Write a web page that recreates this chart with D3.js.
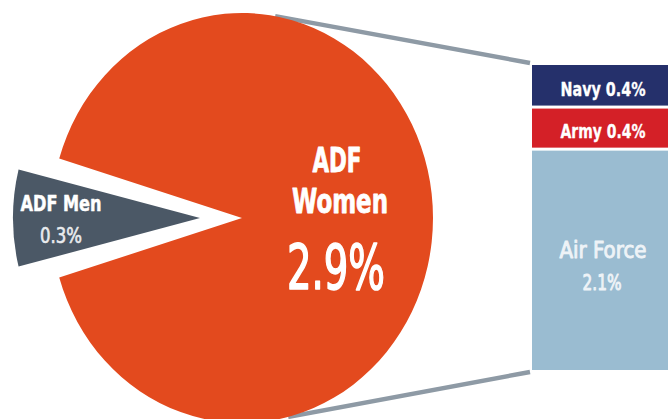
<!DOCTYPE html>
<html><head><meta charset="utf-8">
<script src="https://cdn.jsdelivr.net/npm/d3@7"></script>
<style>html,body{margin:0;padding:0;background:#fff;overflow:hidden;} svg{display:block;}</style>
</head><body>
<svg id="c" width="669" height="419"></svg>
<script>
// ---- data ----
const pieCategories = ["ADF Men", "ADF Women"];
const pieValues = [0.3, 2.9];
const barCategories = ["Navy", "Army", "Air Force"];
const barValues = [0.4, 0.4, 2.1];

// ---- layout / style ----
const svg = d3.select("#c");
const cx = 242, cy = 218, rx = 191, ry = 205;
const explode = 42;
const pieColors = ["#4b5866", "#e34a1e"];
const barColors = ["#25306b", "#d42027", "#9abcd1"];
const FONT = "'Liberation Sans Narrow','DejaVu Sans Condensed',sans-serif";
const barX0 = 532, barX1 = 668, barTop = 65, barBottom = 370;

const total = d3.sum(pieValues);
const menSpan = pieValues[0] / total * 2 * Math.PI;
const pie = d3.pie().sort(null)
  .startAngle(1.5 * Math.PI - menSpan / 2)
  .endAngle(3.5 * Math.PI - menSpan / 2);
const arcs = pie(pieValues);

// connector lines (drawn under the pie)
function ell(deg){ const t = deg*Math.PI/180; return [cx + rx*Math.sin(t), cy - ry*Math.cos(t)]; }
const p1 = ell(10), p2 = ell(166);
svg.append("line").attr("x1", p1[0]).attr("y1", p1[1]).attr("x2", barX0 - 2).attr("y2", barTop - 2)
  .attr("stroke", "#8e9aa5").attr("stroke-width", 4.5);
svg.append("line").attr("x1", p2[0]).attr("y1", p2[1]).attr("x2", barX0 - 2).attr("y2", barBottom + 2)
  .attr("stroke", "#8e9aa5").attr("stroke-width", 4.5);

// pie
const g = svg.append("g").attr("transform", `translate(${cx},${cy}) scale(1,${ry/rx})`);
const arcWomen = d3.arc().innerRadius(0).outerRadius(rx);
const arcMen = d3.arc().innerRadius(0).outerRadius(187).padAngle(0.1);
g.append("path").datum(arcs[1]).attr("d", arcWomen).attr("fill", pieColors[1]);
g.append("path").datum(arcs[0]).attr("d", arcMen).attr("fill", pieColors[0])
  .attr("transform", `translate(${-explode},0)`);

function label(x, y, txt, size, weight, len, color, thick){
  const c = color || "#fff";
  const t = svg.append("text").attr("x", x).attr("y", y).text(txt)
    .attr("text-anchor", "middle").attr("font-family", FONT)
    .attr("font-size", size).attr("font-weight", weight).attr("fill", c);
  if (thick) t.attr("stroke", c).attr("stroke-width", thick).attr("stroke-linejoin", "round");
  if (len) t.attr("textLength", len).attr("lengthAdjust", "spacingAndGlyphs");
  return t;
}

// pie labels
const womenWords = pieCategories[1].split(" ");
label(337, 172, womenWords[0], 33, "bold", 49, "#fff", 0.8);
label(340, 213, womenWords[1], 34, "bold", 96, "#fff", 0.8);
label(336, 289, pieValues[1] + "%", 63, "normal", 98, "#fff", 1.6);
label(61, 211, pieCategories[0], 22, "bold", 81, "#fff", 0.5);
label(61, 243, pieValues[0] + "%", 21, "normal", 42, "#e8ebee", 0.6);

// stacked bar
const y = d3.scaleLinear().domain([0, d3.sum(barValues)]).range([barTop, barBottom]);
let acc = 0;
const segs = barValues.map((v, i) => { const s = {i, v, y0: acc, y1: acc + v}; acc += v; return s; });
svg.selectAll("rect.seg").data(segs).join("rect").attr("class", "seg")
  .attr("x", barX0).attr("width", barX1 - barX0)
  .attr("y", d => y(d.y0) + (d.i > 0 ? 1.5 : 0))
  .attr("height", d => y(d.y1) - y(d.y0) - (d.i > 0 ? 1.5 : 0) - (d.i < segs.length - 1 ? 1.5 : 0))
  .attr("fill", d => barColors[d.i]);

const bx = (barX0 + barX1) / 2;
segs.forEach(d => {
  const mid = (y(d.y0) + y(d.y1)) / 2;
  if (d.i < 2) {
    label(bx + 3, mid + 10, `${barCategories[d.i]} ${d.v}%`, 19, "bold", 85, "#fff", 0.3);
  } else {
    label(bx + 3, mid - 2, barCategories[d.i], 23, "normal", 87, "#eef3f7", 0.9);
    label(bx + 2, mid + 30, d.v + "%", 22, "normal", 39, "#eef3f7", 0.9);
  }
});
</script>
</body></html>
